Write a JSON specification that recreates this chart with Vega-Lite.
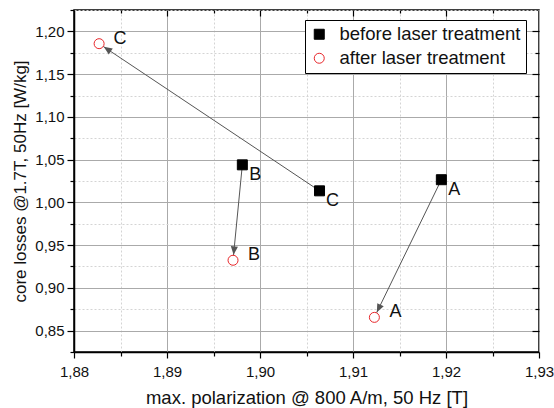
{
  "$schema": "https://vega.github.io/schema/vega-lite/v6.json",
  "width": 465,
  "height": 342,
  "autosize": "none",
  "padding": {"left": 74, "top": 10, "right": 15, "bottom": 56},
  "config": {
    "font": "Liberation Sans",
    "view": {"stroke": "black", "strokeWidth": 1.5},
    "axis": {"labelFontSize": 15, "labelColor": "#111", "titleFontSize": 17, "titleFontWeight": "normal", "titleColor": "#111", "domainColor": "black", "domainWidth": 1.5, "tickColor": "black", "tickWidth": 1.2}
  },
  "datasets": {
    "points": [
      {"sample": "A", "series": "before laser treatment", "pol": 1.9195, "loss": 1.0265},
      {"sample": "B", "series": "before laser treatment", "pol": 1.8981, "loss": 1.0439},
      {"sample": "C", "series": "before laser treatment", "pol": 1.9064, "loss": 1.0135},
      {"sample": "A", "series": "after laser treatment", "pol": 1.9123, "loss": 0.8655},
      {"sample": "B", "series": "after laser treatment", "pol": 1.8971, "loss": 0.9323},
      {"sample": "C", "series": "after laser treatment", "pol": 1.8827, "loss": 1.1856}
    ],
    "arrows": [
      {"sample": "A", "pol_before": 1.9195, "loss_before": 1.0265, "pol_after": 1.9123, "loss_after": 0.8655},
      {"sample": "B", "pol_before": 1.8981, "loss_before": 1.0439, "pol_after": 1.8971, "loss_after": 0.9323},
      {"sample": "C", "pol_before": 1.9064, "loss_before": 1.0135, "pol_after": 1.8827, "loss_after": 1.1856}
    ]
  },
  "layer": [
    {
      "data": {"name": "points"},
      "mark": {"type": "point", "opacity": 0, "size": 1},
      "encoding": {
        "x": {"field": "pol", "type": "quantitative", "scale": {"domain": [1.88, 1.93], "nice": false, "zero": false},
          "axis": {"orient": "bottom", "title": "max. polarization @ 800 A/m, 50 Hz [T]", "titleFontSize": 18.5,
            "values": [1.88, 1.885, 1.89, 1.895, 1.9, 1.905, 1.91, 1.915, 1.92, 1.925, 1.93],
            "labelExpr": "abs(datum.value*100 - round(datum.value*100)) < 0.01 ? replace(format(datum.value, '.2f'), '.', ',') : ''",
            "labelPadding": 6, "titlePadding": 9, "labelFlush": false, "labelOverlap": false,
            "tickSize": {"condition": {"test": "abs(datum.value*100 - round(datum.value*100)) < 0.01", "value": 6}, "value": 4},
            "gridColor": {"condition": {"test": "abs(datum.value*100 - round(datum.value*100)) < 0.01", "value": "#aaaaaa"}, "value": "#d4d4d4"},
            "gridDash": {"condition": {"test": "abs(datum.value*100 - round(datum.value*100)) < 0.01", "value": []}, "value": [2, 2]},
            "gridWidth": 1}},
        "y": {"field": "loss", "type": "quantitative", "scale": {"domain": [0.825, 1.225], "nice": false, "zero": false},
          "axis": {"orient": "left", "title": "core losses @1.7T, 50Hz [W/kg]",
            "values": [0.825, 0.85, 0.875, 0.9, 0.925, 0.95, 0.975, 1.0, 1.025, 1.05, 1.075, 1.1, 1.125, 1.15, 1.175, 1.2, 1.225],
            "labelExpr": "abs(datum.value*20 - round(datum.value*20)) < 0.01 ? replace(format(datum.value, '.2f'), '.', ',') : ''",
            "labelPadding": 3, "titlePadding": 5, "labelFlush": false, "labelOverlap": false,
            "tickSize": {"condition": {"test": "abs(datum.value*20 - round(datum.value*20)) < 0.01", "value": 7}, "value": 4},
            "gridColor": {"condition": {"test": "abs(datum.value*20 - round(datum.value*20)) < 0.01", "value": "#aaaaaa"}, "value": "#d4d4d4"},
            "gridDash": {"condition": {"test": "abs(datum.value*20 - round(datum.value*20)) < 0.01", "value": []}, "value": [2, 2]},
            "gridWidth": 1}}
      }
    },
    {
      "data": {"name": "points"},
      "mark": {"type": "point", "opacity": 0, "size": 1},
      "encoding": {
        "x": {"field": "pol", "type": "quantitative", "scale": {"domain": [1.88, 1.93], "nice": false, "zero": false},
          "axis": {"orient": "top", "title": null, "labels": false, "grid": false, "domain": false,
            "values": [1.885, 1.89, 1.895, 1.9, 1.905, 1.91, 1.915, 1.92, 1.925],
            "tickSize": {"condition": {"test": "abs(datum.value*100 - round(datum.value*100)) < 0.01", "value": -6}, "value": -3}}},
        "y": {"field": "loss", "type": "quantitative", "scale": {"domain": [0.825, 1.225], "nice": false, "zero": false},
          "axis": {"orient": "right", "title": null, "labels": false, "grid": false, "domain": false,
            "values": [0.85, 0.875, 0.9, 0.925, 0.95, 0.975, 1.0, 1.025, 1.05, 1.075, 1.1, 1.125, 1.15, 1.175, 1.2],
            "tickSize": {"condition": {"test": "abs(datum.value*20 - round(datum.value*20)) < 0.01", "value": -7}, "value": -4}}}
      }
    },
    {
      "data": {"name": "arrows"},
      "mark": {"type": "rule", "color": "#555555", "strokeWidth": 1},
      "encoding": {
        "x": {"field": "pol_before", "type": "quantitative", "axis": null},
        "y": {"field": "loss_before", "type": "quantitative", "axis": null},
        "x2": {"field": "pol_after"},
        "y2": {"field": "loss_after"}
      }
    },
    {
      "data": {"name": "arrows"},
      "transform": [
        {"calculate": "atan2((datum.pol_after - datum.pol_before) * 9300, (datum.loss_after - datum.loss_before) * 855) * 180 / PI", "as": "heading"}
      ],
      "mark": {"type": "point", "shape": "M0,0.7 L-0.45,1.75 L0.45,1.75 Z", "filled": true, "color": "#555555", "opacity": 1, "size": 256},
      "encoding": {
        "x": {"field": "pol_after", "type": "quantitative", "axis": null},
        "y": {"field": "loss_after", "type": "quantitative", "axis": null},
        "angle": {"field": "heading", "type": "quantitative", "scale": null}
      }
    },
    {
      "data": {"name": "points"},
      "mark": {"type": "point", "filled": true, "opacity": 1, "strokeWidth": 1, "size": 100},
      "encoding": {
        "x": {"field": "pol", "type": "quantitative", "axis": null},
        "y": {"field": "loss", "type": "quantitative", "axis": null},
        "shape": {"field": "series", "type": "nominal", "scale": {"domain": ["before laser treatment", "after laser treatment"], "range": ["square", "circle"]},
          "legend": {"title": null, "orient": "none", "legendX": 231, "legendY": 10, "strokeColor": "black", "fillColor": "white", "padding": 5, "labelFontSize": 18.5, "labelColor": "#111", "labelOffset": 11, "rowPadding": 5, "symbolSize": 100, "symbolStrokeWidth": 1, "symbolOpacity": 1, "labelLimit": 300}},
        "fill": {"field": "series", "type": "nominal", "scale": {"domain": ["before laser treatment", "after laser treatment"], "range": ["black", "white"]}},
        "stroke": {"field": "series", "type": "nominal", "scale": {"domain": ["before laser treatment", "after laser treatment"], "range": ["black", "#e8262a"]}}
      }
    },
    {
      "data": {"name": "points"},
      "transform": [{"filter": "datum.series == 'before laser treatment'"}],
      "mark": {"type": "text", "fontSize": 18, "color": "#111", "dx": 13, "dy": 10},
      "encoding": {
        "x": {"field": "pol", "type": "quantitative", "axis": null},
        "y": {"field": "loss", "type": "quantitative", "axis": null},
        "text": {"field": "sample"}
      }
    },
    {
      "data": {"name": "points"},
      "transform": [{"filter": "datum.series == 'after laser treatment'"}],
      "mark": {"type": "text", "fontSize": 18, "color": "#111", "dx": 21, "dy": -5},
      "encoding": {
        "x": {"field": "pol", "type": "quantitative", "axis": null},
        "y": {"field": "loss", "type": "quantitative", "axis": null},
        "text": {"field": "sample"}
      }
    }
  ],
  "resolve": {"axis": {"x": "independent", "y": "independent"}}
}
